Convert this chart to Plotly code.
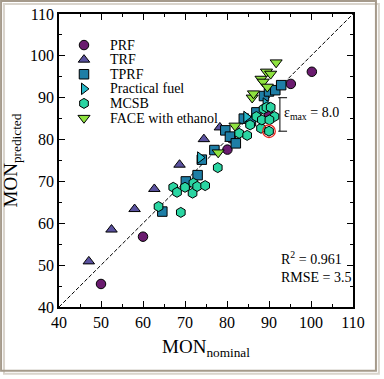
import plotly.graph_objects as go

# ---- data ----
prf_x = [50, 60, 70.2, 80.1, 81, 90, 95.2, 100.2]
prf_y = [45.5, 56.8, 69.0, 77.6, 80.3, 86.0, 93.3, 96.2]

trf_x = [47.1, 52.5, 58.0, 62.7, 68.7, 74.5, 78.3]
trf_y = [50.9, 58.5, 63.4, 68.2, 74.0, 80.1, 82.9]

tprf_x = [64.6, 70.2, 73.0, 74.0, 77.0, 79.6, 80.7, 82.1, 84.0, 85.7, 87.0, 88.8, 90.0, 91.5, 92.9]
tprf_y = [62.8, 70.0, 71.5, 75.2, 77.5, 82.2, 80.7, 79.1, 85.0, 84.4, 86.5, 90.4, 91.5, 91.8, 93.0]

pf_x = [73.6, 84.6, 89.2]
pf_y = [75.7, 85.4, 88.6]

mcsb_x = [63.7, 69.0, 67.2, 68.1, 70.0, 72.0, 71.8, 72.9, 74.8, 77.8, 82.9, 84.8, 85.5, 87.0,
          88.1, 88.3, 88.7, 89.4, 90.0, 90.4, 91.3, 90.1]
mcsb_y = [64.0, 62.6, 68.6, 67.4, 68.6, 69.6, 67.2, 68.8, 69.0, 73.3, 81.5, 81.0, 83.5, 85.5,
          82.7, 84.7, 87.3, 87.7, 82.0, 87.7, 85.5, 84.7]

face_x = [77.9, 81.9, 86.0, 86.3, 88.1, 88.6, 89.4, 90.4, 91.7, 89.6]
face_y = [76.9, 83.3, 90.0, 91.0, 94.5, 93.8, 96.2, 95.7, 98.4, 92.6]

tick_vals = [40, 50, 60, 70, 80, 90, 100, 110]

SERIF = "Liberation Serif"

series = [
    ("PRF", prf_x, prf_y, "circle", "#6a1b6f", 9.5),
    ("TRF", trf_x, trf_y, "triangle-up", "#5a519f", 10),
    ("TPRF", tprf_x, tprf_y, "square", "#1e7ea6", 9.5),
    ("Practical fuel", pf_x, pf_y, "triangle-right", "#25b7c8", 10),
    ("MCSB", mcsb_x, mcsb_y, "hexagon", "#2ad5a2", 10),
    ("FACE with ethanol", face_x, face_y, "triangle-down", "#8ee23f", 10.5),
]

fig = go.Figure()

# diagonal y = x
fig.add_trace(go.Scatter(x=[tick_vals[0], tick_vals[-1]], y=[tick_vals[0], tick_vals[-1]],
                         mode="lines", line=dict(color="black", width=1, dash="4px,2px"),
                         showlegend=False, hoverinfo="skip"))

for name, xs, ys, sym, col, sz in series:
    fig.add_trace(go.Scatter(x=xs, y=ys, mode="markers", name=name, showlegend=False,
                             marker=dict(symbol=sym, color=col, size=sz,
                                         line=dict(color="black", width=1))))

# compact legend drawn on a hidden overlay axis (layout fractions, not data)
leg_x = 0.085
leg_y0, leg_dy = 0.894, 0.0498
leg_ys = [leg_y0 - i * leg_dy for i in range(len(series))]
for (name, xs, ys, sym, col, sz), ly in zip(series, leg_ys):
    fig.add_trace(go.Scatter(x=[leg_x], y=[ly], xaxis="x2", yaxis="y2", mode="markers",
                             showlegend=False, hoverinfo="skip",
                             marker=dict(symbol=sym, color=col, size=sz,
                                         line=dict(color="black", width=1))))

# max error point (computed from data)
all_pts = []
for _, xs, ys, *_ in series:
    all_pts += list(zip(xs, ys))
mx, my = max(all_pts, key=lambda p: abs(p[1] - p[0]))
err = abs(mx - my)

shapes = [
    dict(type="rect", xref="paper", yref="paper", x0=-0.187, x1=1.088, y0=-0.228, y1=1.034,
         line=dict(color="#d9d4cc", width=2), layer="below"),
    dict(type="rect", xref="paper", yref="paper", x0=-0.197, x1=1.078, y0=-0.218, y1=1.044,
         line=dict(color="#a59a8b", width=2), layer="below"),
    dict(type="circle", xref="x", yref="y", x0=mx - 1.5, x1=mx + 1.5, y0=my - 1.5, y1=my + 1.5,
         line=dict(color="#e8241c", width=1.3)),
    dict(type="line", xref="x", yref="y", x0=mx + 2.6, x1=mx + 2.6, y0=my, y1=mx,
         line=dict(color="black", width=1)),
    dict(type="line", xref="x", yref="y", x0=mx + 2.2, x1=mx + 4.3, y0=my, y1=my,
         line=dict(color="black", width=1)),
    dict(type="line", xref="x", yref="y", x0=mx + 2.2, x1=mx + 4.3, y0=mx, y1=mx,
         line=dict(color="black", width=1)),
]

annotations = [
    dict(x=mx + 3.0, y=(mx + my) / 2 + 0.3, xref="x", yref="y", xanchor="left", yanchor="middle",
         text="ε<sub>max</sub> = %.1f" % err, showarrow=False,
         font=dict(family=SERIF, size=14, color="black")),
    dict(x=92.4, y=49.6, xref="x", yref="y", xanchor="left", yanchor="middle", align="left",
         text="R<sup>2</sup> = 0.961<br>RMSE = 3.5", showarrow=False,
         font=dict(family=SERIF, size=14, color="black")),
]
for (name, *_), ly in zip(series, leg_ys):
    annotations.append(dict(x=0.167, y=ly, xref="paper", yref="paper", xanchor="left",
                            yanchor="middle", text=name, showarrow=False,
                            font=dict(family=SERIF, size=14, color="black")))

axis_common = dict(range=[40, 110], tickvals=tick_vals, showgrid=False, zeroline=False,
                   automargin=False,
                   showline=True, linecolor="black", linewidth=1.5, mirror="ticks",
                   ticks="inside", ticklen=6, tickwidth=1.3, tickcolor="black",
                   minor=dict(dtick=5, ticks="inside", ticklen=3, tickwidth=1.2, tickcolor="black",
                              showgrid=False),
                   tickfont=dict(family=SERIF, size=16, color="black"))

fig.update_layout(
    width=384, height=379,
    margin=dict(l=59, r=31, t=14, b=72),
    paper_bgcolor="white", plot_bgcolor="white",
    showlegend=False,
    xaxis=dict(**axis_common, title=dict(text="MON<sub>nominal</sub>", standoff=10,
                                         font=dict(family=SERIF, size=19, color="black"))),
    yaxis=dict(**axis_common, title=dict(text="MON<sub>predicted</sub>", standoff=8,
                                         font=dict(family=SERIF, size=19, color="black"))),
    xaxis2=dict(overlaying="x", range=[0, 1], visible=False, automargin=False),
    yaxis2=dict(overlaying="y", range=[0, 1], visible=False, automargin=False),
    shapes=shapes, annotations=annotations,
)

fig.write_html("out.html", config={"displayModeBar": False},
               post_script="document.body.style.margin='0';document.body.style.overflow='hidden';")
